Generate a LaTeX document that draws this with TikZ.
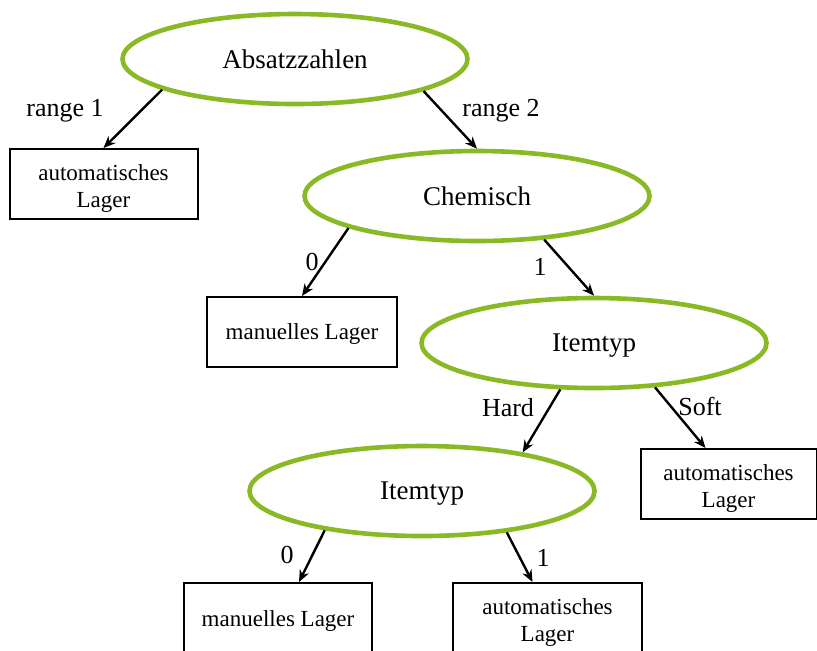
\documentclass[tikz,border=0pt]{standalone}
\usepackage{fontspec}
\setmainfont{Liberation Serif}
\usetikzlibrary{shapes.geometric,arrows.meta,calc}
\definecolor{leafgreen}{RGB}{137,186,38}
\begin{document}
\begin{tikzpicture}[x=0.5pt,y=-0.5pt,
  decision/.style={ellipse,draw=leafgreen,line width=2.3pt,minimum width=172.5pt,
    minimum height=45pt,inner sep=0pt,text depth=0pt,font=\fontsize{13.5}{16}\selectfont},
  leaf/.style={rectangle,draw=black,line width=1pt,minimum height=35pt,
    inner sep=0pt,text depth=0pt,align=center,font=\fontsize{11.5}{13.5}\selectfont},
  twoline/.style={label={[yshift=-2.4pt,align=center,inner sep=0pt,
    font=\fontsize{11.5}{13.5}\selectfont]center:#1}},
  edge/.style={-{Stealth[length=6pt,width=5pt]},line width=1.2pt},
  elabel/.style={anchor=base,font=\fontsize{13}{15}\selectfont}]
\useasboundingbox (0,0) rectangle (817,650);
\clip (0,0) rectangle (817,650);

% decision nodes
\node[decision] (e1) at (295,59)  {Absatzzahlen};
\node[decision] (e2) at (477,196) {Chemisch};
\node[decision] (e3) at (594,343) {Itemtyp};
\node[decision] (e4) at (422,491) {Itemtyp};

% leaves
\node[leaf,minimum width=94pt,twoline={automatisches\\Lager}]   (b1) at (103.5,184) {};
\node[leaf,minimum width=95pt]                                  (b2) at (302,332)   {manuelles Lager};
\node[leaf,minimum width=88pt,twoline={automatisches\\Lager}]   (b3) at (728.5,484) {};
\node[leaf,minimum width=94pt]                                  (b4) at (278,618)   {manuelles Lager};
\node[leaf,minimum width=94.5pt,twoline={automatisches\\Lager}] (b5) at (547.5,618) {};

% branches
\draw[edge] (e1.193) -- (b1.north);
\draw[edge] (e1.-14) -- (e2.north);
\draw[edge] (e2.194) -- (b2.north);
\draw[edge] (e2.-33) -- (e3.north);
\draw[edge] (e3.234) -- (e4.21);
\draw[edge] (e3.-36) -- ($(b3.north)+(-23,0)$);
\draw[edge] (e4.202) -- ($(b4.north)+(21,0)$);
\draw[edge] (e4.-26) -- ($(b5.north)+(-15,0)$);

% branch labels
\node[elabel] (l1) at (65,116)  {range 1};
\node[elabel] (l2) at (501,116) {range 2};
\node[elabel] (l3) at (312,270) {0};
\node[elabel] (l4) at (540,275) {1};
\node[elabel] (l5) at (508,416) {Hard};
\node[elabel] (l6) at (700,415) {Soft};
\node[elabel] (l7) at (287,563) {0};
\node[elabel] (l8) at (543,566) {1};
\end{tikzpicture}
\end{document}
